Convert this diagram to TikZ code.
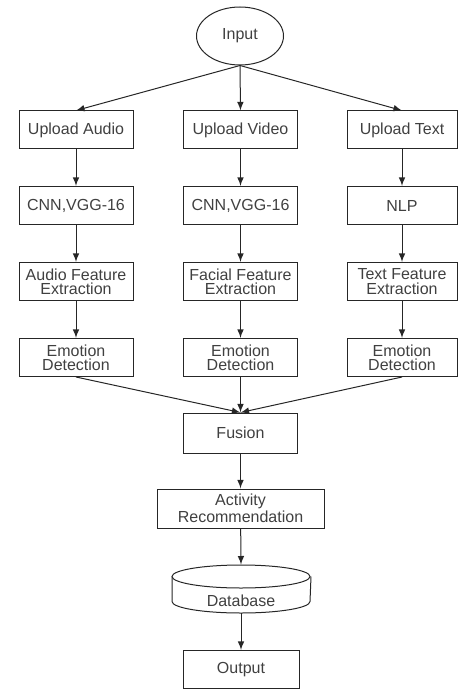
\documentclass[tikz,border=0pt]{standalone}
\usepackage{fontspec}
\setmainfont{Liberation Sans}
\usepackage{tikz}
\usetikzlibrary{shapes.geometric}
\tikzset{
  >=latex,
}
\tikzstyle{flow}=[line width=.5pt,black!85,->]
\tikzstyle{block}=[draw=black!85,line width=.5pt,minimum width=57pt,minimum height=19pt,align=center,inner sep=1pt]
\tikzstyle{every node}=[font=\fontsize{8}{7.2}\selectfont,text=black!75]

\begin{document}
\begin{tikzpicture}[x=.5pt,y=-.5pt]
      \useasboundingbox (0,0) rectangle (457,689);
      \node[draw=black!85,ellipse,line width=.5pt,minimum width=43.5pt,minimum height=29pt,inner sep=0pt] (in) at (240,36) {Input};
      \node[block] (ua) at (76,130) {Upload Audio};
      \node[block] (uv) at (240.5,130) {Upload Video};
      \node[block,minimum width=55pt] (ut) at (402,130) {Upload Text};
      \node[block] (ca) at (76,205.5) {CNN,VGG-16};
      \node[block] (cv) at (240.5,205.5) {CNN,VGG-16};
      \node[block,minimum width=55pt] (ct) at (402,205.5) {NLP};
      \node[block] (fa) at (76,281.5) {Audio Feature\\Extraction};
      \node[block] (fv) at (240.5,281.5) {Facial Feature\\Extraction};
      \node[block,minimum width=55pt] (ft) at (402,281.5) {Text Feature\\Extraction};
      \node[block] (ea) at (76,357.5) {Emotion\\Detection};
      \node[block] (ev) at (240.5,357.5) {Emotion\\Detection};
      \node[block,minimum width=55pt] (et) at (402,357.5) {Emotion\\Detection};
      \node[block,minimum height=20pt] (fu) at (240.5,433) {Fusion};
      \node[block,minimum width=83.5pt,minimum height=19.5pt] (ar) at (240.5,508.5) {Activity\\Recommendation};
      % database drum
      \node[minimum width=69.5pt,minimum height=24pt,inner sep=0pt] (db) at (241,589) {};
      \draw[black!85,line width=.5pt] (241,576.5) ellipse [x radius=34.5pt,y radius=5.75pt];
      \draw[black!85,line width=.5pt] (172,576.5) -- (172,601.5) arc [start angle=180,end angle=360,x radius=34.5pt,y radius=5.75pt] -- (311,576.5);
      \node at (241,601) {Database};
      \node[block,minimum width=58pt] (out) at (241,669.5) {Output};
      \draw[flow] (in.south) -- (ua.north);
      \draw[flow] (in.south) -- (uv.north);
      \draw[flow] (in.south) -- (ut.north);
      \draw[flow] (ua) -- (ca);
      \draw[flow] (uv) -- (cv);
      \draw[flow] (ut) -- (ct);
      \draw[flow] (ca) -- (fa);
      \draw[flow] (cv) -- (fv);
      \draw[flow] (ct) -- (ft);
      \draw[flow] (fa) -- (ea);
      \draw[flow] (fv) -- (ev);
      \draw[flow] (ft) -- (et);
      \draw[flow] (ea.south) -- (fu.north);
      \draw[flow] (ev.south) -- (fu.north);
      \draw[flow] (et.south) -- (fu.north);
      \draw[flow] (fu) -- (ar);
      \draw[flow] (ar) -- (db.north);
      \draw[flow] (db.south) -- (out);
    \end{tikzpicture}
\end{document}
